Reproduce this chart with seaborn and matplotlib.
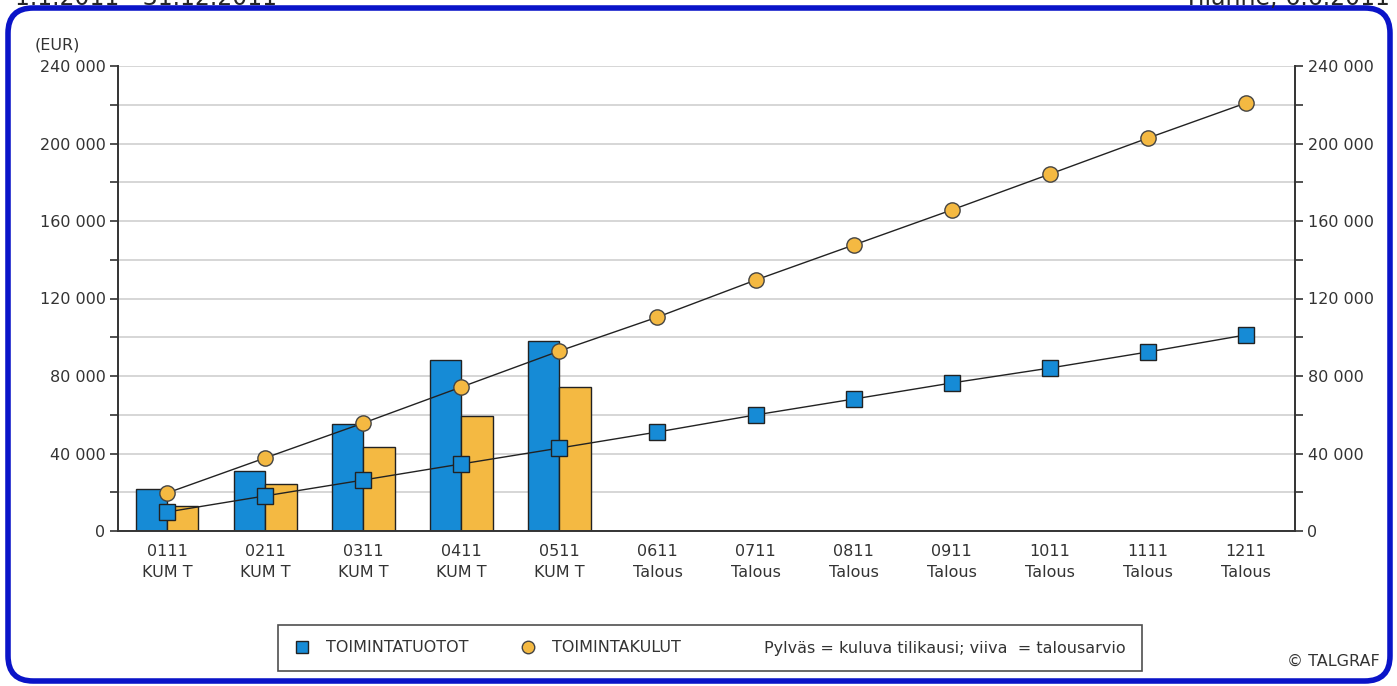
import numpy as np
import pandas as pd
import seaborn as sns
import matplotlib.pyplot as plt
from matplotlib.patches import FancyBboxPatch
from matplotlib.lines import Line2D
from matplotlib.ticker import MultipleLocator, FuncFormatter

# kuukaudet ja arvot
kuukaudet = ["0111\nKUM T", "0211\nKUM T", "0311\nKUM T", "0411\nKUM T", "0511\nKUM T",
             "0611\nTalous", "0711\nTalous", "0811\nTalous", "0911\nTalous",
             "1011\nTalous", "1111\nTalous", "1211\nTalous"]
tuotot_tot = [21500, 31000, 55200, 88500, 98000]
kulut_tot = [12900, 24500, 43300, 59300, 74200]
tuotot_ta = [9800, 18100, 26300, 34600, 42800, 51100, 59900, 68100, 76400, 84100, 92400, 101200]
kulut_ta = [19600, 37700, 55700, 74300, 92900, 110400, 129500, 147600, 165700, 184200, 202800, 220900]

sininen = "#168bd6"
oranssi = "#f4b942"
teksti = "#333333"

sns.set_style("white")
plt.rcParams["font.family"] = ["DejaVu Sans"]

fig = plt.figure(figsize=(13.97, 6.86), dpi=100)
ax = fig.add_axes([118 / 1397, 155 / 686, (1295 - 118) / 1397, (531 - 66) / 686])

# pylväät
n = len(tuotot_tot)
df = pd.DataFrame({
    "kk": kuukaudet[:n] * 2,
    "arvo": tuotot_tot + kulut_tot,
    "sarja": ["TOIMINTATUOTOT"] * n + ["TOIMINTAKULUT"] * n,
})
sns.barplot(data=df, x="kk", y="arvo", hue="sarja", order=kuukaudet,
            palette=[sininen, oranssi], width=0.64, edgecolor="#222222",
            linewidth=1, saturation=1, legend=False, ax=ax)

# talousarvioviivat
x = np.arange(len(kuukaudet))
sns.lineplot(x=x, y=kulut_ta, color="#222222", linewidth=1, marker="o",
             markersize=11, markerfacecolor=oranssi, markeredgecolor="#444444",
             markeredgewidth=1, ax=ax)
sns.lineplot(x=x, y=tuotot_ta, color="#222222", linewidth=1, marker="s",
             markersize=11, markerfacecolor=sininen, markeredgecolor="#222222",
             markeredgewidth=1, ax=ax)

ax.set_xlim(-0.5, 11.5)
ax.set_ylim(0, 240000)
ax.set_xlabel("")
ax.set_ylabel("")
ax.set_xticks(x)
ax.set_xticklabels(kuukaudet, linespacing=1.55)
ax.set_xticks(np.arange(-0.5, 12, 1), minor=True)
ax.tick_params(axis="x", which="major", length=0, pad=9, labelsize=11.5, colors=teksti)
ax.tick_params(axis="x", which="minor", direction="inout", length=10, width=1.2, color=teksti)

ax.yaxis.set_major_locator(MultipleLocator(40000))
ax.yaxis.set_minor_locator(MultipleLocator(20000))
ax.yaxis.set_major_formatter(FuncFormatter(lambda v, p: f"{int(v):,}".replace(",", " ")))
ax.tick_params(axis="y", which="both", left=True, right=True, labelleft=True, labelright=True,
               direction="out", length=6, width=1.2, color=teksti)
ax.tick_params(axis="y", which="major", labelsize=11.5, colors=teksti, pad=3)
ax.tick_params(axis="y", which="minor", length=6)
ax.yaxis.grid(True, which="both", color="#d0d0d0", linewidth=1.2)
ax.set_axisbelow(True)

for s in ["left", "right", "bottom"]:
    ax.spines[s].set_color(teksti)
    ax.spines[s].set_linewidth(1.4)
ax.spines["top"].set_visible(False)

# selite
kahvat = [
    Line2D([], [], linestyle="none", marker="s", markersize=9, markerfacecolor=sininen, markeredgecolor="#222222"),
    Line2D([], [], linestyle="none", marker="o", markersize=9, markerfacecolor=oranssi, markeredgecolor="#444444"),
    Line2D([], [], linestyle="none"),
]
nimet = ["TOIMINTATUOTOT", "TOIMINTAKULUT", "Pylväs = kuluva tilikausi; viiva  = talousarvio"]
leg = fig.legend(kahvat, nimet, ncol=3, loc="center", bbox_to_anchor=(710 / 1397, 1 - 648 / 686),
                 frameon=True, fancybox=False, edgecolor="#222222", fontsize=11.5,
                 handlelength=1.0, handletextpad=1.0, columnspacing=3.2,
                 borderpad=1.0, borderaxespad=0)
leg.get_frame().set_linewidth(1.2)
for t in leg.get_texts():
    t.set_color(teksti)

fig.text(35 / 1397, 1 - 45 / 686, "(EUR)", fontsize=11.5, color=teksti, va="center")
fig.text(1380 / 1397, 1 - 661 / 686, "© TALGRAF", fontsize=11.5, color=teksti, ha="right", va="center")
fig.text(15 / 1397, 1 - 5 / 686, "1.1.2011 - 31.12.2011", fontsize=17, ha="left", va="baseline")
fig.text(1390 / 1397, 1 - 5 / 686, "Tilanne; 6.6.2011", fontsize=17, ha="right", va="baseline")

# kehys
kehys = FancyBboxPatch((8 / 1397, 5 / 686), 1382 / 1397, 673 / 686,
                       boxstyle="round,pad=0,rounding_size=0.018", transform=fig.transFigure,
                       facecolor="none", edgecolor="#0a14c8", linewidth=4,
                       mutation_aspect=1397 / 686)
fig.patches.append(kehys)

fig.savefig("out.png", dpi=100)
